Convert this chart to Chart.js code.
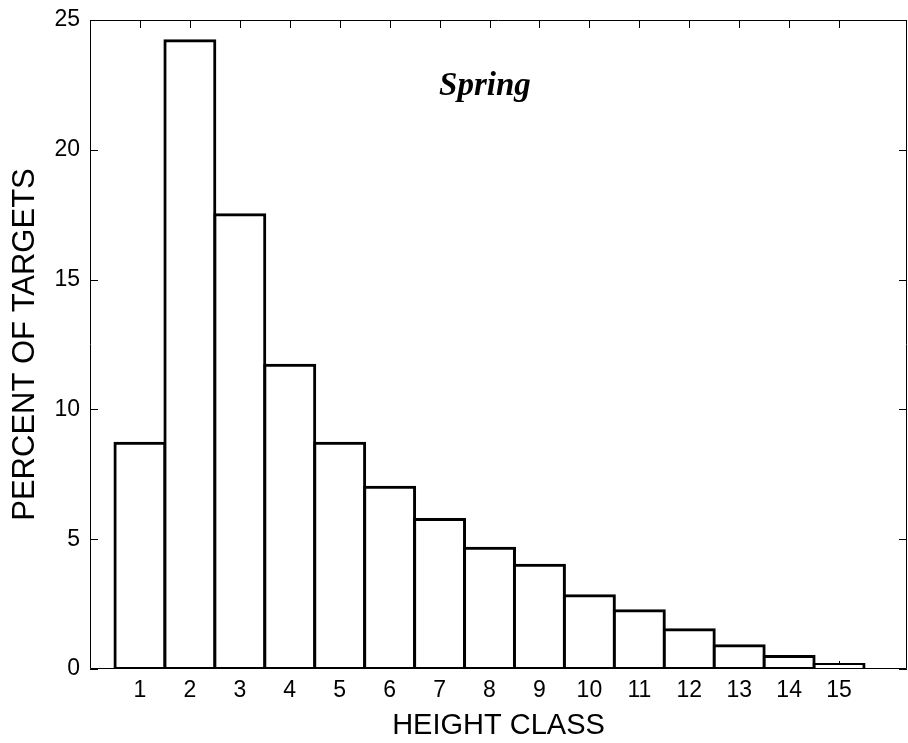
<!DOCTYPE html>
<html>
<head>
<meta charset="utf-8">
<script src="https://cdn.jsdelivr.net/npm/chart.js@4/dist/chart.umd.min.js"></script>
<style>
  body { margin: 0; background: #fff; }
  canvas { display: block; background: #fff; }
</style>
</head>
<body>
<canvas id="heights" width="908" height="743"></canvas>
<script>
// height classes and percent of targets (Spring)
const heightClasses = [1, 2, 3, 4, 5, 6, 7, 8, 9, 10, 11, 12, 13, 14, 15];
const percentTargets = [8.7, 24.2, 17.5, 11.7, 8.7, 7.0, 5.76, 4.65, 4.0, 2.82, 2.24, 1.51, 0.9, 0.48, 0.17];
const yTicks = [0, 5, 10, 15, 20, 25];
const seasonLabel = 'Spring';

const sansFont = "'Liberation Sans', Arial, sans-serif";

Chart.defaults.color = '#000';

// matlab style box with inward ticks, plus the season label
const axesBox = {
  id: 'axesBox',
  beforeDatasetsDraw(chart) {
    const { ctx, chartArea: a, scales: { x, y } } = chart;
    ctx.save();
    ctx.strokeStyle = '#000';
    ctx.lineWidth = 1;
    ctx.beginPath();
    ctx.rect(a.left + 0.5, a.top + 0.5, a.right - a.left - 1, a.bottom - a.top - 1);
    yTicks.forEach(v => {
      const py = Math.round(y.getPixelForValue(v)) + 0.5;
      ctx.moveTo(a.left, py); ctx.lineTo(a.left + 8, py);
      ctx.moveTo(a.right, py); ctx.lineTo(a.right - 8, py);
    });
    heightClasses.forEach(c => {
      const px = Math.round(x.getPixelForValue(c)) + 0.5;
      ctx.moveTo(px, a.top); ctx.lineTo(px, a.top + 8);
      ctx.moveTo(px, a.bottom); ctx.lineTo(px, a.bottom - 8);
    });
    ctx.stroke();
    ctx.restore();
  },
  afterDatasetsDraw(chart) {
    const { ctx, scales: { x, y } } = chart;
    ctx.save();
    ctx.fillStyle = '#000';
    ctx.font = "italic bold 33px 'Liberation Serif', 'Times New Roman', serif";
    ctx.textAlign = 'left';
    ctx.textBaseline = 'alphabetic';
    ctx.fillText(seasonLabel, x.getPixelForValue(6.99), y.getPixelForValue(22.1));
    ctx.restore();
  }
};

// invisible tick marks only used to space the labels from the axes
const hiddenGrid = (len) => ({
  display: true,
  drawOnChartArea: false,
  drawTicks: true,
  tickLength: len,
  color: 'rgba(0,0,0,0)'
});

new Chart(document.getElementById('heights'), {
  type: 'bar',
  data: {
    datasets: [{
      data: heightClasses.map((c, i) => ({ x: c, y: percentTargets[i] })),
      backgroundColor: '#fff',
      borderColor: '#000',
      borderWidth: 3,
      borderSkipped: false,
      inflateAmount: 1.5,
      barPercentage: 1,
      categoryPercentage: 1
    }]
  },
  options: {
    responsive: false,
    animation: false,
    layout: { padding: { top: 20, right: 1, left: 0, bottom: 0 } },
    plugins: { legend: { display: false }, tooltip: { enabled: false } },
    scales: {
      x: {
        type: 'linear',
        offset: false,
        min: 0,
        max: 16.36,
        grid: hiddenGrid(8),
        border: { display: false },
        ticks: {
          stepSize: 1,
          autoSkip: false,
          maxRotation: 0,
          padding: 0,
          font: { family: sansFont, size: 23 },
          callback: v => (Number.isInteger(v) && v >= 1 && v <= 15) ? String(v) : ''
        },
        title: {
          display: true,
          text: 'HEIGHT CLASS',
          font: { family: sansFont, size: 29 },
          padding: { top: 0, bottom: 0 }
        },
        afterFit: s => { s.height = 74; }
      },
      y: {
        min: 0,
        max: 25,
        grid: hiddenGrid(10),
        border: { display: false },
        ticks: {
          stepSize: 5,
          padding: 0,
          font: { family: sansFont, size: 23 }
        },
        title: {
          display: true,
          text: 'PERCENT OF TARGETS',
          font: { family: sansFont, size: 31 },
          padding: { top: 7, bottom: 0 }
        },
        afterFit: s => { s.width = 90; }
      }
    }
  },
  plugins: [axesBox]
});
</script>
</body>
</html>
